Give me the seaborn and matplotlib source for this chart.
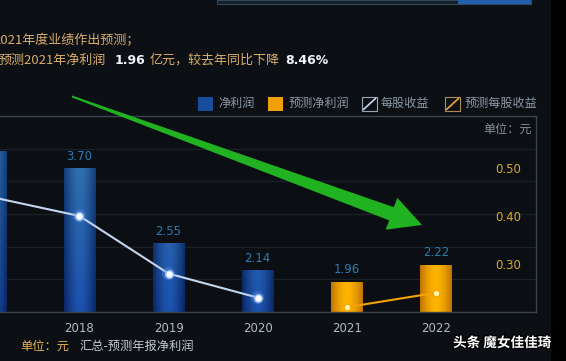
import numpy as np
import pandas as pd
import matplotlib
matplotlib.use("Agg")
import matplotlib.pyplot as plt
import seaborn as sns
from matplotlib.patches import Rectangle, Polygon
from matplotlib.lines import Line2D
from matplotlib.colors import to_rgb
import matplotlib.patheffects as pe

# ---------------- data ----------------
years = ["2017", "2018", "2019", "2020", "2021", "2022"]
net_profit = [3.97, 3.70, 2.55, 2.14, 1.96, 2.22]
kind = ["实际", "实际", "实际", "实际", "预测", "预测"]
eps_actual = [0.44, 0.40, 0.28, 0.23]
eps_forecast = [0.21, 0.24]
eps_ticks = [0.30, 0.40, 0.50]
profit_grid = [1.5, 2.0, 2.5, 3.0, 3.5, 4.0, 4.5]

legend_labels = ["净利润", "预测净利润", "每股收益", "预测每股收益"]
title1 = "2021年度业绩作出预测；"
title2 = ["预测2021年净利润", "1.96", "亿元，较去年同比下降", "8.46%"]
footer = ["单位：元", "汇总-预测年报净利润"]
unit_right = "单位：元"
watermark = "头条 魔女佳佳琦"

# ---------------- style ----------------
sns.set_theme(style="dark")
plt.rcParams["font.family"] = ["Noto Sans CJK SC", "DejaVu Sans"]

W, H = 566, 361
BG = "#0c1015"
fig = plt.figure(figsize=(W / 100, H / 100), dpi=100)
fig.patch.set_facecolor(BG)


def fx(x):
    return x / W


def fy(y):
    return 1 - y / H


# right dark strip
fig.patches.append(Rectangle((fx(551), 0), fx(15), 1, transform=fig.transFigure,
                             facecolor="#000000", edgecolor="none", zorder=0))
# top UI box fragment
fig.patches.append(Rectangle((fx(217), fy(3.5)), fx(314), 3.5 / H, transform=fig.transFigure,
                             facecolor="#141e29", edgecolor="#34485c", lw=0.8, zorder=1))
fig.patches.append(Rectangle((fx(458), fy(3.5)), fx(73), 3.5 / H, transform=fig.transFigure,
                             facecolor="#1f5fae", edgecolor="none", zorder=1))

ax = fig.add_axes([0, (H - 312) / H, 535.5 / W, 196 / H])
ax.set_facecolor("#0b0e12")

df = pd.DataFrame({"year": years, "profit": net_profit, "kind": kind})
sns.barplot(data=df, x="year", y="profit", hue="kind",
            palette={"实际": "#1a4c9c", "预测": "#f0a000"},
            dodge=False, width=0.35, saturation=1, legend=False, ax=ax, zorder=2,
            linewidth=0, edgecolor="none")

ymin, ymax = 1.5, 4.5
ax.set_ylim(ymin, ymax)
ax.set_xlim(0.108, 6.118)


def lerp(a, b, t):
    a = np.array(to_rgb(a)); b = np.array(to_rgb(b))
    return a * (1 - t) + b * t


def bar_image(top, blue, n=64, m=48):
    t = np.linspace(0, 1, n)
    wgt = 1 - np.abs(2 * t - 1) ** 1.6
    ys = np.linspace(top, ymin, m)
    img = np.zeros((m, n, 3))
    for i, yv in enumerate(ys):
        f = np.clip((yv - ymin) / (4.0 - ymin), 0, 1)
        if blue:
            edge = lerp("#0a2462", "#123f7a", f)
            cen = lerp("#1c52ae", "#3574ae", f)
        else:
            edge = np.array(to_rgb("#bf7400"))
            cen = np.array(to_rgb("#ffb400"))
        img[i] = edge[None, :] * (1 - wgt[:, None]) + cen[None, :] * wgt[:, None]
    return img


for p in list(ax.patches):
    x0, w = p.get_x(), p.get_width()
    top = p.get_y() + p.get_height()
    blue = p.get_facecolor()[2] > p.get_facecolor()[0]
    im = ax.imshow(bar_image(top, blue), extent=[x0, x0 + w, ymin, top], aspect="auto",
                   zorder=2.5, interpolation="bilinear")
    im.set_clip_path(p)

for c in ax.containers:
    ax.bar_label(c, fmt="%.2f", padding=4, color="#2c7cb3", fontsize=8.5,
                 family="DejaVu Sans", zorder=4)

ax.set_xlim(0.108, 6.118)
ax.set_ylim(ymin, ymax)
ax.set_yticks(profit_grid)
ax.set_yticklabels([])
ax.grid(axis="y", color="#1b2129", lw=0.9)
ax.grid(axis="x", visible=False)
ax.tick_params(axis="y", length=0)
ax.tick_params(axis="x", length=0, pad=7, labelcolor="#b0bac7", labelsize=8.5)
for lbl in ax.get_xticklabels():
    lbl.set_family("DejaVu Sans")
ax.set_xlabel("")
ax.set_ylabel("")
ax.spines["left"].set_visible(False)
for s in ["top", "right", "bottom"]:
    ax.spines[s].set_color("#3a4550")
    ax.spines[s].set_linewidth(1.0)

# ---------------- EPS lines ----------------
ax2 = ax.twinx()
pos = np.arange(len(years))
xa = pos[:len(eps_actual)]
xf = pos[len(eps_actual):]
sns.lineplot(x=xa, y=eps_actual, color="#c3d5ee", lw=1.5, ax=ax2, zorder=5)
sns.scatterplot(x=xa, y=eps_actual, s=90, color="#5f95e8", alpha=0.35, edgecolor="none",
                ax=ax2, zorder=6)
sns.scatterplot(x=xa, y=eps_actual, s=30, color="#ffffff", edgecolor="#9cc0f5",
                linewidth=1.0, ax=ax2, zorder=7)
sns.lineplot(x=xf, y=eps_forecast, color="#f5a300", lw=1.5, ax=ax2, zorder=5)
sns.scatterplot(x=xf, y=eps_forecast, s=22, color="#fff3b0", edgecolor="#f5a300",
                linewidth=0.8, ax=ax2, zorder=7)
ax2.set_ylim(0.2, 0.2 + 196 / 480)
ax2.set_xlim(0.108, 6.118)
ax2.set_yticks(eps_ticks)
ax2.set_yticklabels([f"{v:.2f}" for v in eps_ticks])
ax2.tick_params(axis="y", length=0, pad=-10, labelcolor="#d6aa2a", labelsize=8.5)
for lbl in ax2.get_yticklabels():
    lbl.set_ha("right")
    lbl.set_family("DejaVu Sans")
ax2.grid(False)
ax2.set_ylabel("")
for s in ax2.spines.values():
    s.set_visible(False)

# ---------------- legend (manual) ----------------
def ftext(x, y, s, **kw):
    fig.text(fx(x), fy(y), s, va="center", **kw)

fig.patches.append(Rectangle((fx(198), fy(111)), fx(15), 14 / H, transform=fig.transFigure,
                             facecolor="#1a4c9c", edgecolor="none"))
ftext(218, 103.5, legend_labels[0], color="#8d99a8", fontsize=8.7)
fig.patches.append(Rectangle((fx(268), fy(111)), fx(15), 14 / H, transform=fig.transFigure,
                             facecolor="#f0a000", edgecolor="none"))
ftext(288, 103.5, legend_labels[1], color="#8d99a8", fontsize=8.7)
for bx, edge, diag, lab, tx in [(362, "#9aa6b6", "#c8d8f2", legend_labels[2], 381),
                                (445, "#b08a50", "#f0a830", legend_labels[3], 464)]:
    fig.patches.append(Rectangle((fx(bx), fy(111)), fx(15), 14 / H, transform=fig.transFigure,
                                 facecolor="none", edgecolor=edge, lw=0.8))
    fig.lines.append(Line2D([fx(bx + 1.5), fx(bx + 13.5)], [fy(109.5), fy(98.5)],
                            transform=fig.transFigure, color=diag, lw=1.2))
    ftext(tx, 103.5, lab, color="#8d99a8", fontsize=8.7)

# ---------------- titles & notes ----------------
ftext(-7, 41, title1, color="#d9ae6a", fontsize=9.4)
ftext(-1, 60, title2[0], color="#d9ae6a", fontsize=9.4)
ftext(115, 60, title2[1], color="#f2f4f8", fontsize=9, fontweight="bold", family="DejaVu Sans")
ftext(150, 60, title2[2], color="#d9ae6a", fontsize=9.4)
ftext(285, 60, title2[3], color="#f2f4f8", fontsize=9, fontweight="bold", family="DejaVu Sans")

ftext(483, 129, unit_right, color="#87919c", fontsize=8.7)
ftext(20, 346, footer[0], color="#e6b050", fontsize=8.8)
ftext(80, 346, footer[1], color="#c3cad3", fontsize=8.8)
fig.text(fx(453), fy(343), watermark, va="center", color="#ffffff", fontsize=9.8,
         fontweight="bold",
         path_effects=[pe.withStroke(linewidth=2, foreground="#000000")])

# ---------------- green arrow ----------------
arrow_px = [(72, 95.5), (393.7, 207.2), (397.4, 197.9), (422, 225),
            (385.6, 229.7), (389.2, 220.4), (72, 97.5)]
fig.patches.append(Polygon([(fx(x), fy(y)) for x, y in arrow_px], closed=True,
                           transform=fig.transFigure, facecolor="#20b220",
                           edgecolor="none", zorder=20))

fig.savefig("out.png", dpi=100, facecolor=BG)
